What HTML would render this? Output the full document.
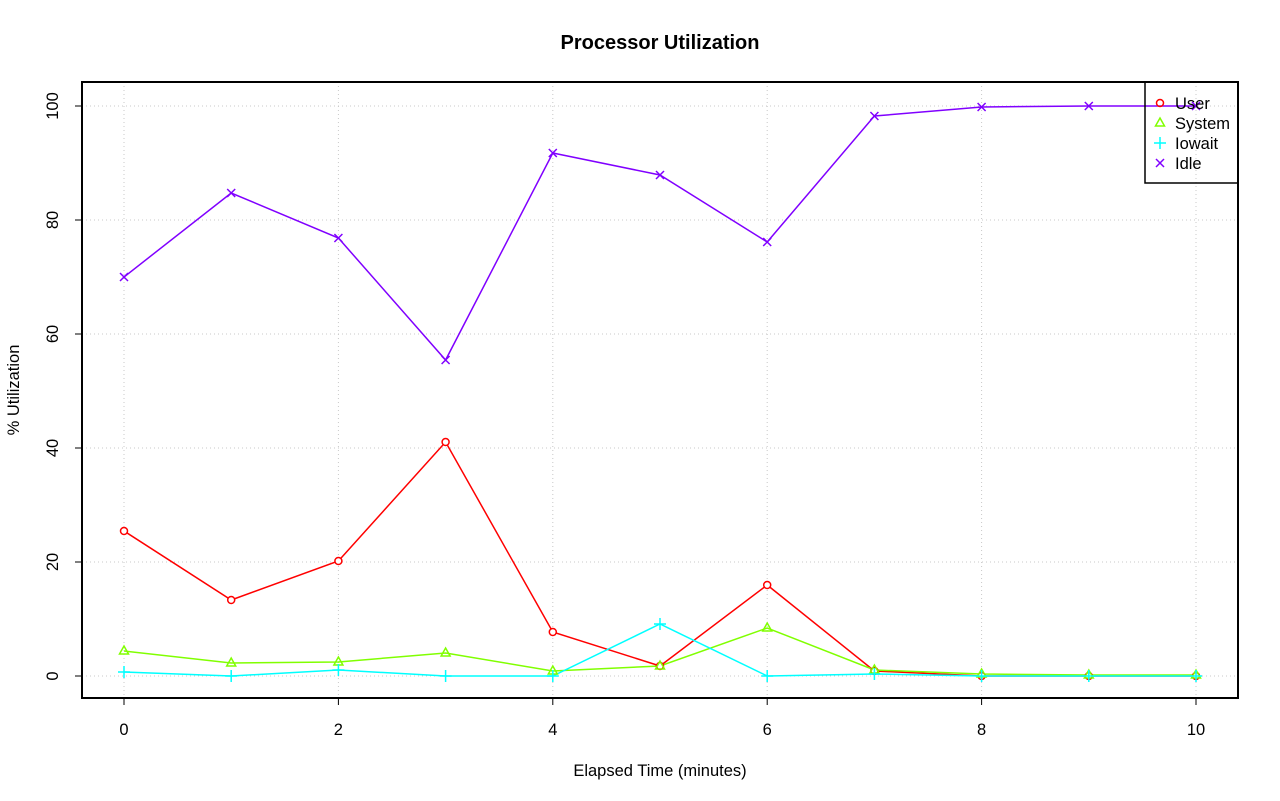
<!DOCTYPE html>
<html><head><meta charset="utf-8"><style>body{margin:0;background:#fff}svg{display:block}text{font-family:"Liberation Sans",sans-serif;fill:#000}</style></head><body>
<svg width="1280" height="801" viewBox="0 0 1280 801" xmlns="http://www.w3.org/2000/svg">
<text x="660" y="49" font-size="20" font-weight="bold" text-anchor="middle">Processor Utilization</text>
<g stroke="#c8c8c8" stroke-width="1" stroke-dasharray="1,3">
<line x1="124" y1="82" x2="124" y2="698"/><line x1="338.4" y1="82" x2="338.4" y2="698"/><line x1="552.8" y1="82" x2="552.8" y2="698"/><line x1="767.2" y1="82" x2="767.2" y2="698"/><line x1="981.6" y1="82" x2="981.6" y2="698"/><line x1="1196" y1="82" x2="1196" y2="698"/>
<line x1="82" y1="676" x2="1238" y2="676"/><line x1="82" y1="562" x2="1238" y2="562"/><line x1="82" y1="448" x2="1238" y2="448"/><line x1="82" y1="334" x2="1238" y2="334"/><line x1="82" y1="220" x2="1238" y2="220"/><line x1="82" y1="106" x2="1238" y2="106"/>
</g>
<rect x="82" y="82" width="1156" height="616" fill="none" stroke="#000" stroke-width="2"/>
<g stroke="#000" stroke-width="1">
<line x1="124" y1="698" x2="1196" y2="698"/>
<line x1="124" y1="698" x2="124" y2="705"/><line x1="338.4" y1="698" x2="338.4" y2="705"/><line x1="552.8" y1="698" x2="552.8" y2="705"/><line x1="767.2" y1="698" x2="767.2" y2="705"/><line x1="981.6" y1="698" x2="981.6" y2="705"/><line x1="1196" y1="698" x2="1196" y2="705"/>
<line x1="82" y1="106" x2="82" y2="676"/>
<line x1="75" y1="676" x2="82" y2="676"/><line x1="75" y1="562" x2="82" y2="562"/><line x1="75" y1="448" x2="82" y2="448"/><line x1="75" y1="334" x2="82" y2="334"/><line x1="75" y1="220" x2="82" y2="220"/><line x1="75" y1="106" x2="82" y2="106"/>
</g>
<g font-size="16.5" text-anchor="middle">
<text x="124" y="735">0</text><text x="338.4" y="735">2</text><text x="552.8" y="735">4</text><text x="767.2" y="735">6</text><text x="981.6" y="735">8</text><text x="1196" y="735">10</text>
<text transform="translate(58,676) rotate(-90)">0</text><text transform="translate(58,562) rotate(-90)">20</text><text transform="translate(58,448) rotate(-90)">40</text><text transform="translate(58,334) rotate(-90)">60</text><text transform="translate(58,220) rotate(-90)">80</text><text transform="translate(58,106) rotate(-90)">100</text>
<text x="660" y="776">Elapsed Time (minutes)</text>
<text transform="translate(19,390) rotate(-90)">% Utilization</text>
</g>
<g fill="none" stroke-width="1.5">
<polyline stroke="#8000FF" points="124,277 231.2,193 338.4,238 445.6,360 552.8,153 660,175 767.2,242 874.4,116 981.6,107 1088.8,106 1196,106"/>
<polyline stroke="#FF0000" points="124,531 231.2,600 338.4,561 445.6,442 552.8,632 660,666 767.2,585 874.4,671 981.6,676 1088.8,676 1196,676"/>
<polyline stroke="#80FF00" points="124,651 231.2,663 338.4,662 445.6,653 552.8,671 660,666 767.2,628 874.4,670 981.6,674 1088.8,675 1196,675"/>
<polyline stroke="#00FFFF" points="124,672 231.2,676 338.4,670 445.6,676 552.8,676 660,624 767.2,676 874.4,674 981.6,676 1088.8,676 1196,676"/>
</g>
<g fill="#fff" stroke="#FF0000" stroke-width="1.5">
<circle cx="124" cy="531" r="3.5"/><circle cx="231.2" cy="600" r="3.5"/><circle cx="338.4" cy="561" r="3.5"/><circle cx="445.6" cy="442" r="3.5"/><circle cx="552.8" cy="632" r="3.5"/><circle cx="660" cy="666" r="3.5"/><circle cx="767.2" cy="585" r="3.5"/><circle cx="874.4" cy="671" r="3.5"/><circle cx="981.6" cy="676" r="3.5"/><circle cx="1088.8" cy="676" r="3.5"/><circle cx="1196" cy="676" r="3.5"/>
</g>
<defs>
<path id="tri" d="M0,-5 L4.5,3 L-4.5,3 Z" fill="none" stroke="#80FF00" stroke-width="1.5"/>
<path id="plus" d="M-6,0 H6 M0,-6 V6" stroke="#00FFFF" stroke-width="1.5"/>
<path id="cross" d="M-4,-4 L4,4 M-4,4 L4,-4" stroke="#8000FF" stroke-width="1.5"/>
</defs>
<use href="#tri" x="124" y="651"/><use href="#tri" x="231.2" y="663"/><use href="#tri" x="338.4" y="662"/><use href="#tri" x="445.6" y="653"/><use href="#tri" x="552.8" y="671"/><use href="#tri" x="660" y="666"/><use href="#tri" x="767.2" y="628"/><use href="#tri" x="874.4" y="670"/><use href="#tri" x="981.6" y="674"/><use href="#tri" x="1088.8" y="675"/><use href="#tri" x="1196" y="675"/>
<use href="#plus" x="124" y="672"/><use href="#plus" x="231.2" y="676"/><use href="#plus" x="338.4" y="670"/><use href="#plus" x="445.6" y="676"/><use href="#plus" x="552.8" y="676"/><use href="#plus" x="660" y="624"/><use href="#plus" x="767.2" y="676"/><use href="#plus" x="874.4" y="674"/><use href="#plus" x="981.6" y="676"/><use href="#plus" x="1088.8" y="676"/><use href="#plus" x="1196" y="676"/>
<use href="#cross" x="124" y="277"/><use href="#cross" x="231.2" y="193"/><use href="#cross" x="338.4" y="238"/><use href="#cross" x="445.6" y="360"/><use href="#cross" x="552.8" y="153"/><use href="#cross" x="660" y="175"/><use href="#cross" x="767.2" y="242"/><use href="#cross" x="874.4" y="116"/><use href="#cross" x="981.6" y="107"/><use href="#cross" x="1088.8" y="106"/><use href="#cross" x="1196" y="106"/>
<rect x="1145" y="82" width="93" height="101" fill="none" stroke="#000" stroke-width="1.5"/>
<circle cx="1160" cy="103" r="3.5" fill="none" stroke="#FF0000" stroke-width="1.5"/>
<use href="#tri" x="1160" y="123"/><use href="#plus" x="1160" y="143"/><use href="#cross" x="1160" y="163"/>
<g font-size="16.5"><text x="1175" y="109">User</text><text x="1175" y="129">System</text><text x="1175" y="149">Iowait</text><text x="1175" y="169">Idle</text></g>
</svg>
</body></html>
